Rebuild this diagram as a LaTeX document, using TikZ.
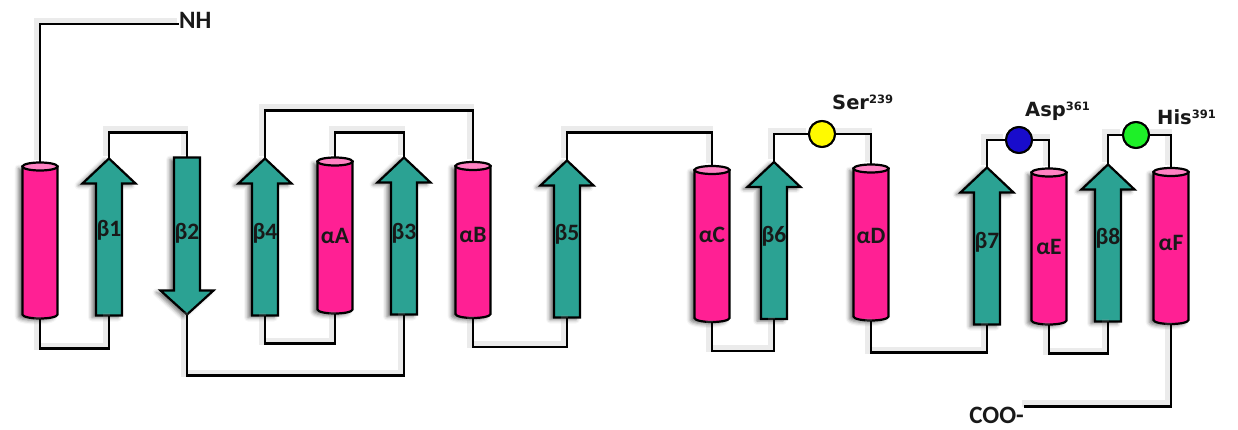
\documentclass[tikz,border=0pt]{standalone}
\usepackage{fontspec}
\setmainfont{Carlito}
\newfontfamily\resfont{DejaVu Sans}
\usetikzlibrary{calc,shadows.blur}
\pgfdeclarelayer{background}
\pgfsetlayers{background,main}
\definecolor{hpink}{RGB}{255,32,148}
\definecolor{hlight}{RGB}{255,130,195}
\definecolor{steal}{RGB}{43,162,147}
\definecolor{sblue}{RGB}{24,12,204}
\definecolor{sgreen}{RGB}{30,240,40}
\definecolor{syellow}{RGB}{255,250,0}
\tikzset{
 softshadow/.style={blur shadow={shadow xshift=-4pt,shadow yshift=-2pt,shadow blur radius=4pt,shadow opacity=55}},
 outl/.style={draw=black,line width=2.2pt,line join=miter},
 hbody/.style={outl,fill=hpink,softshadow},
 htop/.style={outl,fill=hlight},
 sbody/.style={outl,fill=steal,softshadow},
 elem/.style={rectangle,inner sep=0pt,outer sep=0pt},
 lbl/.style={inner sep=0pt,font=\bfseries\fontsize{23.5}{23.5}\selectfont,text=black!90},
 helixnode/.style={elem,minimum width=35pt,minimum height=156pt},
 strandnode/.style={elem,minimum width=53pt,minimum height=157pt},
 conn/.style={line width=2.8pt,line join=miter,preaction={draw=black!40,line width=7pt,opacity=0.2,transform canvas={shift={(-2.5pt,2.5pt)}}}},
 site/.style={circle,draw=black,line width=2pt,minimum size=26pt,inner sep=0pt},
 res/.style={font=\resfont\bfseries\fontsize{19.5}{19.5}\selectfont,inner sep=0pt,text=black!90},
 term/.style={font=\bfseries\fontsize{25}{25}\selectfont,inner sep=0pt,text=black!90}
}
\newcommand{\helixshape}[1]{%
 \begin{pgfonlayer}{background}
  \path[hbody] ([yshift=-4pt]#1.north west) -- ([yshift=4pt]#1.south west)
     arc[start angle=180,end angle=360,x radius=17.5pt,y radius=4pt]
     -- ([yshift=-4pt]#1.north east) -- cycle;
  \path[htop] ([yshift=-4pt]#1.north) ellipse[x radius=17.5pt,y radius=4pt];
 \end{pgfonlayer}}
\newcommand{\strandup}[1]{%
 \begin{pgfonlayer}{background}
  \path[sbody] ([xshift=-13pt]#1.south) -- ([xshift=-13pt,yshift=-25pt]#1.north)
    -- ([yshift=-25pt]#1.north west) -- (#1.north) -- ([yshift=-25pt]#1.north east)
    -- ([xshift=13pt,yshift=-25pt]#1.north) -- ([xshift=13pt]#1.south) -- cycle;
 \end{pgfonlayer}}
\newcommand{\stranddown}[1]{%
 \begin{pgfonlayer}{background}
  \path[sbody] ([xshift=-13pt]#1.north) -- ([xshift=-13pt,yshift=24pt]#1.south)
    -- ([yshift=24pt]#1.south west) -- (#1.south) -- ([yshift=24pt]#1.south east)
    -- ([xshift=13pt,yshift=24pt]#1.south) -- ([xshift=13pt]#1.north) -- cycle;
 \end{pgfonlayer}}
\begin{document}
\begin{tikzpicture}[x=1pt,y=-1pt]
\useasboundingbox (0,0) rectangle (1238,430);
% helices
\node[helixnode] (h1) at (40,240.5) {};
\node[helixnode,label={[lbl]center:αA}] (aA) at (335,235.5) {};
\node[helixnode,label={[lbl,yshift=5pt]center:αB}] (aB) at (473,240) {};
\node[helixnode,label={[lbl,yshift=9pt]center:αC}] (aC) at (712,244) {};
\node[helixnode,label={[lbl,yshift=7pt]center:αD}] (aD) at (871,242.5) {};
\node[helixnode,label={[lbl]center:αE}] (aE) at (1049,246.5) {};
\node[helixnode,label={[lbl,yshift=3pt]center:αF}] (aF) at (1171,246) {};
% strands
\node[strandnode,label={[lbl,yshift=7pt]center:β1}] (b1) at (109,237) {};
\node[strandnode,label={[lbl,yshift=3pt]center:β2}] (b2) at (187,236) {};
\node[strandnode,label={[lbl,yshift=3pt]center:β3}] (b3) at (404,236) {};
\node[strandnode,label={[lbl,yshift=4pt]center:β4}] (b4) at (265,237) {};
\node[strandnode,label={[lbl,yshift=5pt]center:β5}] (b5) at (567,239) {};
\node[strandnode,label={[lbl,yshift=4pt]center:β6}] (b6) at (774,240.5) {};
\node[strandnode,label={[lbl,yshift=4pt]center:β7}] (b7) at (987,246) {};
\node[strandnode,label={[lbl,yshift=5pt]center:β8}] (b8) at (1108,243) {};
\helixshape{h1}\helixshape{aA}\helixshape{aB}\helixshape{aC}
\helixshape{aD}\helixshape{aE}\helixshape{aF}
\strandup{b1}\stranddown{b2}\strandup{b3}\strandup{b4}
\strandup{b5}\strandup{b6}\strandup{b7}\strandup{b8}
% termini and sites
\node[term,anchor=west] (nh) at (179,20.5) {NH};
\node[term,anchor=base east] (coo) at (1024,423) {COO-};
\node[site,fill=syellow] (ser) at (822,134) {};
\node[site,fill=sblue] (asp) at (1019,140) {};
\node[site,fill=sgreen] (his) at (1136,135) {};
\node[res,anchor=base west] (serl) at (832,110) {Ser\raisebox{6pt}{\fontsize{11.5}{11.5}\selectfont 239}};
\node[res,anchor=base west] (aspl) at (1025,117) {Asp\raisebox{6pt}{\fontsize{11.5}{11.5}\selectfont 361}};
\node[res,anchor=base west] (hisl) at (1157,125) {His\raisebox{6pt}{\fontsize{11.5}{11.5}\selectfont 391}};
% connectors
\draw[conn] (h1.north) |- ([yshift=-3.5pt]nh.west);
\draw[conn] (h1.south) -- ++(0,30) -| (b1.south);
\draw[conn] (b1.north) -- ++(0,-26) -| (b2.north);
\draw[conn] (b2.south) -- ++(0,61) -| (b3.south);
\draw[conn] (b3.north) -- ++(0,-25) -| (aA.north);
\draw[conn] (aA.south) -- ++(0,30) -| (b4.south);
\draw[conn] (b4.north) -- ++(0,-48) -| (aB.north);
\draw[conn] (aB.south) -- ++(0,29) -| (b5.south);
\draw[conn] (b5.north) -- ++(0,-28) -| (aC.north);
\draw[conn] (aC.south) -- ++(0,29) -| (b6.south);
\draw[conn] (b6.north) |- (ser);
\draw[conn] (ser) -| (aD.north);
\draw[conn] (aD.south) -- ++(0,32) -| (b7.south);
\draw[conn] (b7.north) |- (asp);
\draw[conn] (asp) -| (aE.north);
\draw[conn] (aE.south) -- ++(0,29) -| (b8.south);
\draw[conn] (b8.north) |- (his);
\draw[conn] (his) -| (aF.north);
\draw[conn] (aF.south) |- (coo.north east);
% redraw sites above connector shadows
\node[site,fill=syellow] at (ser) {};
\node[site,fill=sblue] at (asp) {};
\node[site,fill=sgreen] at (his) {};
\end{tikzpicture}
\end{document}
